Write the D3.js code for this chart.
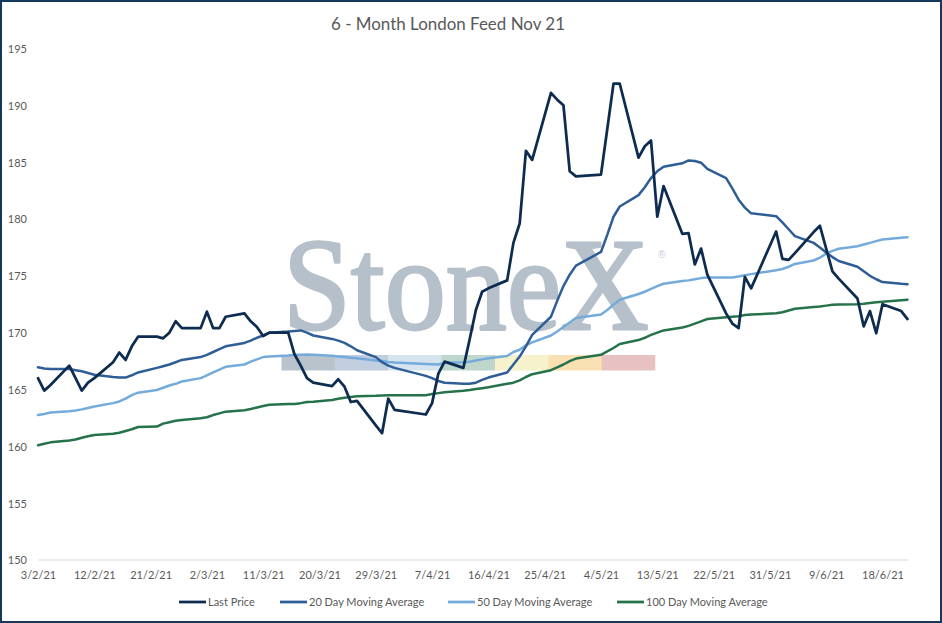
<!DOCTYPE html>
<html>
<head>
<meta charset="utf-8">
<script src="https://cdn.jsdelivr.net/npm/d3@7"></script>
<style>
  html, body { margin: 0; padding: 0; background: #fff; }
  svg { display: block; }
  text { font-family: Lato, "Open Sans", sans-serif; }
</style>
</head>
<body>
<svg id="chart" width="942" height="623"></svg>
<script>
// ---------- DATA ----------
const title = "6 - Month London Feed Nov 21";

const dates = [
  "3/2","4/2","5/2","8/2","9/2","10/2","11/2","12/2","15/2","16/2","17/2","18/2","19/2","22/2","23/2","24/2","25/2","26/2",
  "1/3","2/3","3/3","4/3","5/3","8/3","9/3","10/3","11/3","12/3","15/3","16/3","17/3","18/3","19/3","22/3","23/3","24/3","25/3","26/3","29/3","30/3","31/3",
  "1/4","6/4","7/4","8/4","9/4","12/4","13/4","14/4","15/4","16/4","19/4","20/4","21/4","22/4","23/4","26/4","27/4","28/4","29/4","30/4",
  "4/5","5/5","6/5","7/5","10/5","11/5","12/5","13/5","14/5","17/5","18/5","19/5","20/5","21/5","24/5","25/5","26/5","27/5","28/5",
  "1/6","2/6","3/6","4/6","7/6","8/6","9/6","10/6","11/6","14/6","15/6","16/6","17/6","18/6","21/6","22/6"
];

const lastPrice = [
  166.0,164.9,165.4,167.1,166.0,164.9,165.6,166.0,167.4,168.25,167.6,168.8,169.65,169.65,169.5,170.0,171.0,170.4,
  170.4,171.85,170.4,170.4,171.4,171.7,171.0,170.5,169.7,170.0,170.0,168.1,167.1,166.0,165.6,165.3,165.9,165.25,163.9,164.0,161.85,161.15,164.2,
  163.2,162.8,163.8,166.4,167.45,166.9,169.4,172.0,173.6,173.9,174.6,177.9,179.6,186.0,185.2,191.1,190.5,190.0,184.2,183.75,
  183.9,187.9,191.9,191.9,185.4,186.4,186.9,180.2,182.9,178.7,178.75,176.0,177.4,175.1,171.7,170.8,170.4,174.9,173.9,
  178.9,176.5,176.4,177.0,178.85,179.4,177.4,175.4,174.75,173.0,170.55,171.9,169.95,172.5,171.9,171.2
];

const ma20 = [
  166.95,166.85,166.8,166.8,166.7,166.6,166.45,166.3,166.1,166.05,166.05,166.25,166.5,166.9,167.05,167.2,167.4,167.6,
  167.85,168.05,168.3,168.55,168.8,169.1,169.3,169.55,169.75,170.0,170.1,170.15,170.2,170.0,169.75,169.45,169.3,169.1,168.8,168.45,167.85,167.4,167.1,
  166.9,166.2,166.0,165.75,165.6,165.5,165.5,165.6,165.85,166.05,166.5,167.2,167.9,168.8,169.8,171.4,172.8,174.1,175.1,175.9,
  177.1,178.6,180.2,181.1,182.1,182.8,183.6,184.2,184.6,184.9,185.15,185.1,184.95,184.4,183.6,182.7,181.7,181.0,180.5,
  180.25,179.7,179.1,178.5,177.9,177.5,177.05,176.65,176.3,175.8,175.4,175.0,174.7,174.45,174.3,174.27
];

const ma50 = [
  162.75,162.85,162.97,163.08,163.15,163.25,163.38,163.5,163.8,163.95,164.2,164.5,164.72,164.96,165.15,165.35,165.5,165.7,
  166.0,166.25,166.5,166.75,167.0,167.2,167.45,167.65,167.85,167.9,168.0,168.05,168.05,168.08,168.05,167.96,167.9,167.85,167.8,167.75,167.55,167.5,167.42,
  167.38,167.25,167.22,167.2,167.35,167.4,167.45,167.55,167.65,167.75,167.95,168.3,168.5,168.9,169.15,169.75,170.1,170.5,170.9,171.3,
  171.6,172.0,172.45,172.9,173.4,173.6,173.85,174.1,174.3,174.55,174.6,174.7,174.8,174.85,174.85,174.85,174.95,175.05,175.15,
  175.5,175.6,175.8,176.05,176.35,176.6,176.95,177.2,177.38,177.6,177.75,177.9,178.05,178.2,178.35,178.4
];

const ma100 = [
  160.1,160.22,160.35,160.52,160.6,160.75,160.88,161.0,161.1,161.2,161.35,161.5,161.7,161.74,162.0,162.12,162.25,162.32,
  162.47,162.56,162.75,162.9,163.05,163.18,163.28,163.42,163.55,163.65,163.72,163.73,163.8,163.9,163.92,164.08,164.18,164.28,164.35,164.4,164.45,164.48,164.5,
  164.5,164.5,164.6,164.68,164.75,164.88,164.95,165.05,165.12,165.2,165.5,165.6,165.8,166.1,166.35,166.7,166.95,167.2,167.5,167.72,
  168.05,168.35,168.65,169.0,169.35,169.55,169.8,170.0,170.2,170.45,170.6,170.8,171.0,171.2,171.35,171.4,171.45,171.55,171.6,
  171.7,171.8,171.95,172.1,172.25,172.3,172.38,172.45,172.47,172.5,172.55,172.62,172.68,172.72,172.85,172.9
];

const seriesNames = ["Last Price", "20 Day Moving Average", "50 Day Moving Average", "100 Day Moving Average"];
const seriesColors = ["#0d2c50", "#2f5e97", "#74abdb", "#25724b"];

const xTickLabels = ["3/2/21","12/2/21","21/2/21","2/3/21","11/3/21","20/3/21","29/3/21","7/4/21","16/4/21","25/4/21","4/5/21","13/5/21","22/5/21","31/5/21","9/6/21","18/6/21"];
const yTicks = [150,155,160,165,170,175,180,185,190,195];

const watermarkBar = ["#b8c3cc","#c0cee0","#d6e4f0","#bed6cc","#f6f2cc","#f9e1b4","#e8c2c2"];

// ---------- CHART ----------
const W = 942, H = 623;
const svg = d3.select("#chart");
const parse = d3.timeParse("%d/%m/%Y");
const parseTick = d3.timeParse("%d/%m/%y");
const xDates = dates.map(d => parse(d + "/2021"));

const x = d3.scaleTime()
  .domain([parse("3/2/2021"), parse("22/6/2021")])
  .range([38, 907.5]);
const y = d3.scaleLinear().domain([150, 195]).range([560, 48.5]);

// frame
svg.append("rect").attr("x", 1).attr("y", 1).attr("width", W - 2).attr("height", H - 2)
  .attr("fill", "#fff").attr("stroke", "#15395c").attr("stroke-width", 2);

// title
svg.append("text").attr("x", 448).attr("y", 30).attr("text-anchor", "middle")
  .attr("font-size", 17.5).attr("fill", "#595959")
  .attr("textLength", 234).attr("lengthAdjust", "spacingAndGlyphs")
  .text(title);

// watermark
const wm = svg.append("g");
wm.append("text").attr("transform", "translate(283,329) scale(1,1.07)")
  .style("font-family", "'Liberation Serif', 'DejaVu Serif', serif")
  .attr("font-size", 122).attr("fill", "#b5c0ca")
  .attr("stroke", "#b5c0ca").attr("stroke-width", 2.6).attr("stroke-linejoin", "round")
  .text("StoneX");
wm.append("text").attr("x", 658).attr("y", 258)
  .style("font-family", "'Liberation Sans', sans-serif")
  .attr("font-size", 10).attr("fill", "#c6ced6").text("®");
const segW = (655 - 281.5) / watermarkBar.length;
wm.selectAll("rect.seg").data(watermarkBar).join("rect").attr("class", "seg")
  .attr("x", (d, i) => 281.5 + i * segW).attr("y", 355)
  .attr("width", segW + 0.3).attr("height", 15.5).attr("fill", d => d);

// baseline gridline at 150
svg.append("line").attr("x1", 38).attr("x2", 908).attr("y1", y(150)).attr("y2", y(150))
  .attr("stroke", "#d9d9d9").attr("stroke-width", 1);

// y axis labels
const yAxis = d3.axisLeft(y).tickValues(yTicks).tickSize(0).tickPadding(0).tickFormat(d3.format("d"));
const yg = svg.append("g").attr("transform", "translate(27,0)").call(yAxis);
yg.select(".domain").remove();
yg.selectAll("text").attr("font-size", 11).attr("fill", "#595959")
  .style("font-family", "Lato, sans-serif").attr("dy", "0.35em");

// x axis labels
const xAxis = d3.axisBottom(x).tickValues(xTickLabels.map(parseTick)).tickSize(0).tickPadding(0)
  .tickFormat((d, i) => xTickLabels[i]);
const xg = svg.append("g").attr("transform", "translate(0,571)").call(xAxis);
xg.select(".domain").remove();
xg.selectAll("text").attr("font-size", 11).attr("fill", "#595959")
  .style("font-family", "Lato, sans-serif");

// lines
const allSeries = [lastPrice, ma20, ma50, ma100];
const line = d3.line().x((d, i) => x(xDates[i])).y(d => y(d));
const drawOrder = [3, 2, 1, 0];
drawOrder.forEach(k => {
  svg.append("path").datum(allSeries[k])
    .attr("fill", "none").attr("stroke", seriesColors[k])
    .attr("stroke-width", k === 0 ? 2.75 : 2.5)
    .attr("stroke-linejoin", "round").attr("stroke-linecap", "round")
    .attr("d", line);
});

// legend
const legendX = [179, 280, 448, 617];
const lg = svg.append("g");
seriesNames.forEach((name, i) => {
  lg.append("line").attr("x1", legendX[i]).attr("x2", legendX[i] + 27)
    .attr("y1", 602).attr("y2", 602).attr("stroke", seriesColors[i]).attr("stroke-width", 2.75);
  lg.append("text").attr("x", legendX[i] + 29).attr("y", 602).attr("dy", "0.35em")
    .attr("font-size", 11).attr("fill", "#595959").text(name);
});
</script>
</body>
</html>
